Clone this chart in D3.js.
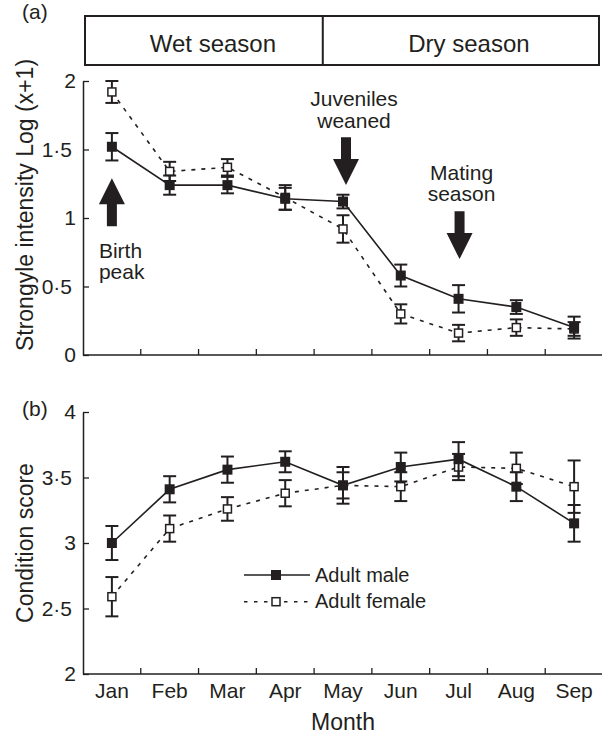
<!DOCTYPE html>
<html>
<head>
<meta charset="utf-8">
<script src="https://cdn.jsdelivr.net/npm/d3@7"></script>
<style>
  html, body { margin: 0; padding: 0; background: #fff; }
  svg { display: block; }
</style>
</head>
<body>
<svg id="chart" width="602" height="735"></svg>
<script>
// ---- data ----
const months = ["Jan", "Feb", "Mar", "Apr", "May", "Jun", "Jul", "Aug", "Sep"];

const strongyleMale     = [1.52, 1.24, 1.24, 1.14, 1.12, 0.58, 0.41, 0.35, 0.20];
const strongyleMaleSE   = [0.10, 0.07, 0.06, 0.08, 0.05, 0.08, 0.10, 0.05, 0.08];
const strongyleFemale   = [1.92, 1.34, 1.37, 1.15, 0.92, 0.30, 0.16, 0.20, 0.19];
const strongyleFemaleSE = [0.08, 0.07, 0.06, 0.09, 0.10, 0.07, 0.06, 0.06, 0.05];

const conditionMale     = [3.00, 3.41, 3.56, 3.62, 3.44, 3.58, 3.64, 3.43, 3.15];
const conditionMaleSE   = [0.13, 0.10, 0.10, 0.08, 0.14, 0.11, 0.13, 0.11, 0.14];
const conditionFemale   = [2.59, 3.11, 3.26, 3.38, 3.44, 3.43, 3.58, 3.57, 3.43];
const conditionFemaleSE = [0.15, 0.10, 0.09, 0.10, 0.10, 0.11, 0.10, 0.12, 0.20];

const strongyleTicks = [0, 0.5, 1, 1.5, 2];
const conditionTicks = [2, 2.5, 3, 3.5, 4];

const seasons = ["Wet season", "Dry season"];
const seasonBreak = 4.15; // in month steps from the axis start

const seriesNames = ["Adult male", "Adult female"];

// events: label lines, month, arrow direction, arrow tail / tip in strongyle units
const events = [
  { lines: ["Birth", "peak"], month: "Jan", tail: 0.94, tip: 1.29 },
  { lines: ["Juveniles", "weaned"], month: "May", tail: 1.59, tip: 1.24 },
  { lines: ["Mating", "season"], month: "Jul", tail: 1.05, tip: 0.70 }
];

// ---- layout ----
const ink = "#231f20";
const font = "'Liberation Sans', Arial, Helvetica, sans-serif";
const left = 83, right = 603;

const svg = d3.select("#chart");

const x = d3.scaleBand().domain(months).range([left, right]);
const xc = m => x(m) + x.bandwidth() / 2;
const xStep = d3.scaleLinear().domain([0, months.length]).range([left, right]);

const yTop = d3.scaleLinear().domain([0, 2]).range([355, 81]);
const yBot = d3.scaleLinear().domain([2, 4]).range([674, 412]);

const fmt = v => String(v).replace(".", "\u00b7");

function drawAxes(g, y, ticks, showLabels) {
  // y axis
  const ya = g.append("g")
    .attr("transform", `translate(${left},0)`)
    .call(d3.axisLeft(y).tickValues(ticks).tickSize(-6).tickSizeOuter(0).tickFormat(fmt));
  ya.select(".domain").attr("stroke", ink).attr("stroke-width", 1.5);
  ya.selectAll(".tick line").attr("stroke", ink).attr("stroke-width", 1.3);
  ya.selectAll(".tick text")
    .attr("font-family", font).attr("font-size", 21).attr("fill", ink)
    .attr("x", d => (String(d).includes(".") ? -11 : -7));

  // x axis: ticks on band boundaries
  const xa = g.append("g").attr("transform", `translate(0,${y.range()[0]})`);
  xa.append("line")
    .attr("x1", left).attr("x2", right)
    .attr("stroke", ink).attr("stroke-width", 1.5);
  xa.selectAll("line.tk")
    .data(months)
    .join("line")
    .attr("class", "tk")
    .attr("x1", (d, i) => xStep(i + 1)).attr("x2", (d, i) => xStep(i + 1))
    .attr("y1", 0).attr("y2", -6)
    .attr("stroke", ink).attr("stroke-width", 1.3);
  if (showLabels) {
    xa.selectAll("text")
      .data(months)
      .join("text")
      .attr("x", d => xc(d))
      .attr("y", 24)
      .attr("text-anchor", "middle")
      .attr("font-family", font).attr("font-size", 21).attr("fill", ink)
      .text(d => d);
  }
}

function drawSeries(g, y, vals, se, filled, dashed) {
  const pts = months.map((m, i) => ({ m, v: vals[i], e: se[i] }));
  g.append("path")
    .datum(pts)
    .attr("fill", "none")
    .attr("stroke", ink)
    .attr("stroke-width", 1.6)
    .attr("stroke-dasharray", dashed ? "4,6" : null)
    .attr("d", d3.line().x(d => xc(d.m)).y(d => y(d.v)));

  const eb = g.append("g").attr("stroke", ink).attr("stroke-width", 2);
  eb.selectAll("line.v").data(pts).join("line").attr("class", "v")
    .attr("x1", d => xc(d.m)).attr("x2", d => xc(d.m))
    .attr("y1", d => y(d.v - d.e)).attr("y2", d => y(d.v + d.e));
  ["lo", "hi"].forEach(k => {
    eb.selectAll("line." + k).data(pts).join("line").attr("class", k)
      .attr("x1", d => xc(d.m) - 6.5).attr("x2", d => xc(d.m) + 6.5)
      .attr("y1", d => y(k === "lo" ? d.v - d.e : d.v + d.e))
      .attr("y2", d => y(k === "lo" ? d.v - d.e : d.v + d.e));
  });

  const s = filled ? 10 : 8;
  g.selectAll(null).data(pts).join("rect")
    .attr("x", d => xc(d.m) - s / 2).attr("y", d => y(d.v) - s / 2)
    .attr("width", s).attr("height", s)
    .attr("fill", filled ? ink : "#fff")
    .attr("stroke", ink).attr("stroke-width", filled ? 0 : 1.5);
}

// ---- panel (a) ----
const ga = svg.append("g");

// season box
const boxTop = 16, boxBot = 65, boxL = 85, boxR = 599;
const xBreak = xStep(seasonBreak);
ga.append("rect")
  .attr("x", boxL).attr("y", boxTop)
  .attr("width", boxR - boxL).attr("height", boxBot - boxTop)
  .attr("fill", "none").attr("stroke", ink).attr("stroke-width", 2);
ga.append("line")
  .attr("x1", xBreak).attr("x2", xBreak).attr("y1", boxTop).attr("y2", boxBot)
  .attr("stroke", ink).attr("stroke-width", 2);
const seasonCenters = [(boxL + xBreak) / 2 + 9, (xBreak + boxR) / 2 + 8];
ga.selectAll("text.season").data(seasons).join("text")
  .attr("class", "season")
  .attr("x", (d, i) => seasonCenters[i]).attr("y", 52)
  .attr("text-anchor", "middle")
  .attr("font-family", font).attr("font-size", 24).attr("fill", ink)
  .text(d => d);

drawAxes(ga, yTop, strongyleTicks, false);
drawSeries(ga, yTop, strongyleFemale, strongyleFemaleSE, false, true);
drawSeries(ga, yTop, strongyleMale, strongyleMaleSE, true, false);

// event arrows
function arrowPath(cx, yTail, yTip) {
  const dir = Math.sign(yTip - yTail); // +1 pointing down
  const head = 26, hw = 13, sw = 5;
  const yBase = yTip - dir * head;
  return `M${cx - sw},${yTail} L${cx + sw},${yTail} L${cx + sw},${yBase} L${cx + hw},${yBase}
          L${cx},${yTip} L${cx - hw},${yBase} L${cx - sw},${yBase} Z`;
}
const evLayout = {
  Jan: { dx: 0, anchor: "start", tx: -13, ty: [258, 279] },
  May: { dx: 3, anchor: "middle", tx: 8, ty: [106, 128] },
  Jul: { dx: 1, anchor: "middle", tx: 2, ty: [180, 201] }
};
events.forEach(ev => {
  const L = evLayout[ev.month];
  const cx = xc(ev.month) + L.dx;
  ga.append("path")
    .attr("d", arrowPath(cx, yTop(ev.tail), yTop(ev.tip)))
    .attr("fill", ink);
  ga.append("text")
    .attr("text-anchor", L.anchor)
    .attr("font-family", font).attr("font-size", 21).attr("fill", ink)
    .selectAll("tspan").data(ev.lines).join("tspan")
    .attr("x", cx + L.tx)
    .attr("y", (d, i) => L.ty[i])
    .text(d => d);
});

ga.append("text")
  .attr("x", 22).attr("y", 19)
  .attr("font-family", font).attr("font-size", 21).attr("fill", ink)
  .text("(a)");
ga.append("text")
  .attr("transform", `translate(33,${(55 + 355) / 2}) rotate(-90)`)
  .attr("text-anchor", "middle")
  .attr("font-family", font).attr("font-size", 23).attr("fill", ink)
  .text("Strongyle intensity Log (x+1)");

// ---- panel (b) ----
const gb = svg.append("g");
drawAxes(gb, yBot, conditionTicks, true);
drawSeries(gb, yBot, conditionFemale, conditionFemaleSE, false, true);
drawSeries(gb, yBot, conditionMale, conditionMaleSE, true, false);

gb.append("text")
  .attr("x", 22).attr("y", 416)
  .attr("font-family", font).attr("font-size", 21).attr("fill", ink)
  .text("(b)");
gb.append("text")
  .attr("transform", `translate(33,${(412 + 674) / 2}) rotate(-90)`)
  .attr("text-anchor", "middle")
  .attr("font-family", font).attr("font-size", 23).attr("fill", ink)
  .text("Condition score");
gb.append("text")
  .attr("x", (left + right) / 2).attr("y", 730)
  .attr("text-anchor", "middle")
  .attr("font-family", font).attr("font-size", 23).attr("fill", ink)
  .text("Month");

// legend
const leg = gb.append("g").attr("transform", "translate(244,575)");
seriesNames.forEach((name, i) => {
  const row = leg.append("g").attr("transform", `translate(0,${i * 26.7})`);
  row.append("line")
    .attr("x1", 0).attr("x2", 66)
    .attr("stroke", ink).attr("stroke-width", 1.6)
    .attr("stroke-dasharray", i === 1 ? "3.5,6.5" : null);
  const s = i === 0 ? 10 : 8;
  row.append("rect")
    .attr("x", 32 - s / 2).attr("y", -s / 2).attr("width", s).attr("height", s)
    .attr("fill", i === 0 ? ink : "#fff")
    .attr("stroke", ink).attr("stroke-width", i === 0 ? 0 : 1.5);
  row.append("text")
    .attr("x", 71).attr("y", 6.5)
    .attr("font-family", font).attr("font-size", 20).attr("fill", ink)
    .text(name);
});
</script>
</body>
</html>
